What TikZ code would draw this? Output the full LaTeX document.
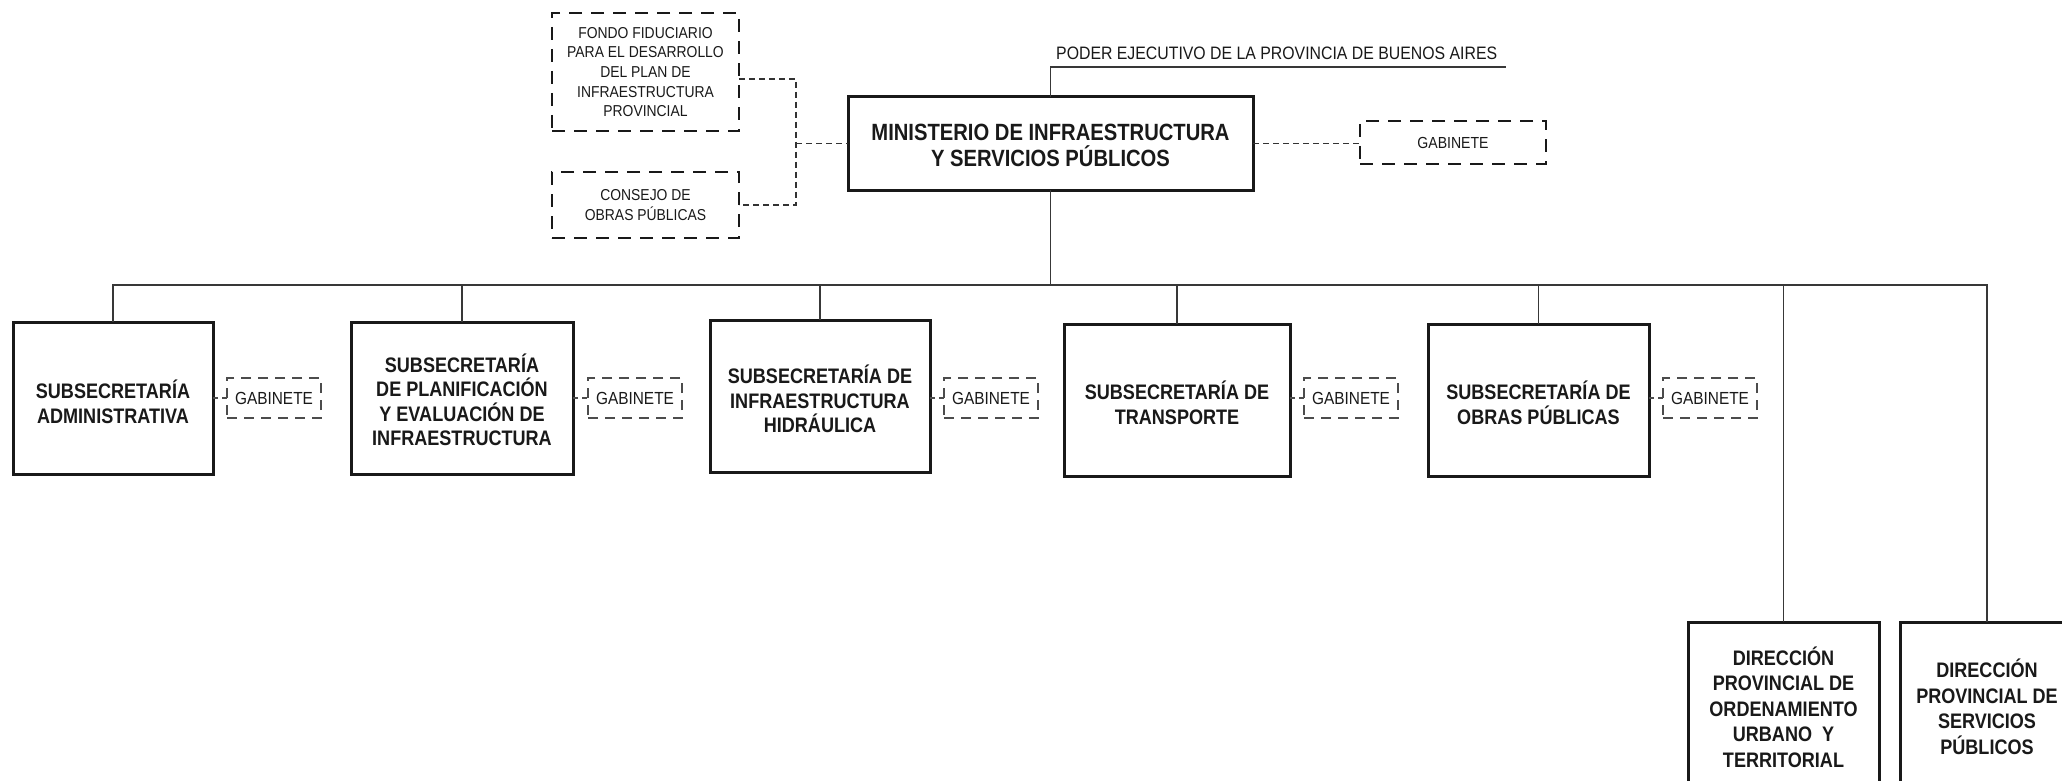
\documentclass[tikz,border=0pt]{standalone}
\usepackage{fontspec}
\setmainfont{Liberation Sans}
\newfontfamily\boldcond{Liberation Sans}[FakeStretch=0.86]
\newfontfamily\regcond{Liberation Sans}[FakeStretch=0.88]
\tikzset{
  boxbase/.style={rectangle, align=center, inner sep=0pt, outer sep=0pt, text=black!90},
  mainbox/.style={boxbase, draw=black!90, line width=3pt},
  subtext/.style={boxbase, font=\boldcond\bfseries\fontsize{21pt}{24.5pt}\selectfont},
  mintext/.style={boxbase, font=\boldcond\bfseries\fontsize{23.5pt}{26.5pt}\selectfont},
  dirtext/.style={boxbase, font=\boldcond\bfseries\fontsize{21pt}{25.5pt}\selectfont},
  thickdash/.style={boxbase, draw=black!90, line width=2.7pt, dash pattern=on 13pt off 9pt, font=\regcond\fontsize{15.8pt}{19.6pt}\selectfont},
  smallgab/.style={boxbase, draw=black!70, line width=1.6pt, dash pattern=on 10pt off 7pt, minimum width=94pt, minimum height=40pt, font=\regcond\fontsize{17.5pt}{20pt}\selectfont},
  conn/.style={draw=black!78, line width=1.5pt},
  dconn/.style={draw=black!80, line width=1.5pt, dash pattern=on 6pt off 4pt},
  sconn/.style={draw=black!70, line width=1.5pt, dash pattern=on 5pt off 4pt},
  labeltext/.style={inner sep=0pt, text=black!90, font=\regcond\fontsize{18pt}{20pt}\selectfont}
}
\begin{document}
\begin{tikzpicture}[x=1pt,y=-1pt]
\useasboundingbox (0,0) rectangle (2062,781);
\fill[white] (0,0) rectangle (2062,781);

% top level
\node[mainbox, minimum width=405pt, minimum height=93pt] (min) at (1050.5,143.5) {};
\node[mintext] (mint) at ([yshift=-2pt]min.center) {MINISTERIO DE INFRAESTRUCTURA\\Y SERVICIOS PÚBLICOS};
\node[labeltext, anchor=base west] (poder) at (1056,60) {PODER EJECUTIVO DE LA PROVINCIA DE BUENOS AIRES};
\coordinate (pend) at (1506,67);
\draw[conn] (min.north) |- (pend);

\node[thickdash, minimum width=187pt, minimum height=118pt] (fondo) at (645.5,72) {FONDO FIDUCIARIO\\PARA EL DESARROLLO\\DEL PLAN DE\\INFRAESTRUCTURA\\PROVINCIAL};
\node[thickdash, minimum width=187pt, minimum height=66pt] (consejo) at (645.5,205) {CONSEJO DE\\OBRAS PÚBLICAS};
\coordinate (junc) at (796,143.5);
\draw[dconn] ([yshift=-7pt]fondo.east) -| (junc) |- (consejo.east);
\draw[dconn] (junc) -- (min.west);

\node[thickdash, minimum width=186pt, minimum height=43pt, font=\regcond\fontsize{16pt}{19pt}\selectfont] (gabtop) at (1453,142.5) {GABINETE};
\draw[dconn] (min.east) -- (min.east -| gabtop.west);

% subsecretarias
\node[mainbox, minimum width=200pt, minimum height=152pt] (s1) at (113,398) {};
\node[mainbox, minimum width=222pt, minimum height=152pt] (s2) at (462,398) {};
\node[mainbox, minimum width=220pt, minimum height=152pt] (s3) at (820,396) {};
\node[mainbox, minimum width=226pt, minimum height=152pt] (s4) at (1177,400) {};
\node[mainbox, minimum width=221pt, minimum height=152pt] (s5) at (1538.5,400) {};
\node[subtext] (s1t) at ([yshift=-4pt]s1.center) {SUBSECRETARÍA\\ADMINISTRATIVA};
\node[subtext] (s2t) at ([yshift=-2pt]s2.center) {SUBSECRETARÍA\\DE PLANIFICACIÓN\\Y EVALUACIÓN DE\\INFRAESTRUCTURA};
\node[subtext] (s3t) at ([yshift=-3pt]s3.center) {SUBSECRETARÍA DE\\INFRAESTRUCTURA\\HIDRÁULICA};
\node[subtext] (s4t) at ([yshift=-3pt]s4.center) {SUBSECRETARÍA DE\\TRANSPORTE};
\node[subtext] (s5t) at ([yshift=-3pt]s5.center) {SUBSECRETARÍA DE\\OBRAS PÚBLICAS};

\node[smallgab] (g1) at (274,398) {GABINETE};
\node[smallgab] (g2) at (635,398) {GABINETE};
\node[smallgab] (g3) at (991,398) {GABINETE};
\node[smallgab] (g4) at (1351,398) {GABINETE};
\node[smallgab] (g5) at (1710,398) {GABINETE};
\foreach \s/\g in {s1/g1,s2/g2,s3/g3,s4/g4,s5/g5}{
  \draw[sconn] (\s.east |- \g.west) -- (\g.west);
}

% direcciones
\node[mainbox, minimum width=191pt, minimum height=168pt] (d1) at (1783.5,706) {};
\node[mainbox, minimum width=174pt, minimum height=168pt] (d2) at (1987,706) {};
\node[dirtext] (d1t) at ([yshift=-1pt]d1.center) {DIRECCIÓN\\PROVINCIAL DE\\ORDENAMIENTO\\URBANO\ \ Y\\TERRITORIAL};
\node[dirtext] (d2t) at ([yshift=-1pt]d2.center) {DIRECCIÓN\\PROVINCIAL DE\\SERVICIOS\\PÚBLICOS};

% bus
\coordinate (bus) at (0,285);
\draw[conn] (min.south) -- (min.south |- bus);
\draw[conn] (s1.north) -- (s1.north |- bus) -- (d2.north |- bus) -- (d2.north);
\foreach \n in {s2,s3,s4,s5,d1}{
  \draw[conn] (\n.north) -- (\n.north |- bus);
}
\end{tikzpicture}
\end{document}
